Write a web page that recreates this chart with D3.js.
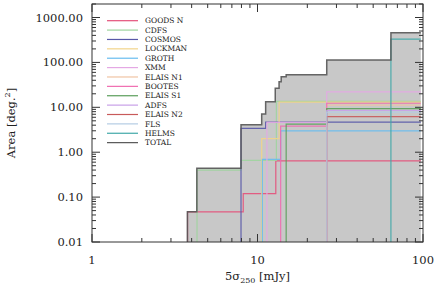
<!DOCTYPE html>
<html>
<head>
<meta charset="utf-8">
<script src="https://cdn.jsdelivr.net/npm/d3@7"></script>
<style>
  body { margin: 0; background: #fff; }
  svg { display: block; }
  text { font-family: "DejaVu Serif", serif; fill: #222; }
</style>
</head>
<body>
<svg width="436" height="286"></svg>
<script>
// field names + colours, in legend order
const fieldNames = ["GOODS N", "CDFS", "COSMOS", "LOCKMAN", "GROTH", "XMM", "ELAIS N1",
  "BOOTES", "ELAIS S1", "ADFS", "ELAIS N2", "FLS", "HELMS", "TOTAL"];
const fieldColors = ["#e4507a", "#9ed49e", "#5858a8", "#f2d488", "#68bcf0", "#e4a8e4", "#f0c4a4",
  "#f06cb0", "#5a9e5a", "#c8a0e8", "#c85a5a", "#b4cce4", "#40a8a8", "#555555"];

// [5sigma depth (mJy), cumulative area (deg^2)] steps
const goodsN  = [[3.78, 0.047], [8.2, 0.12], [12.9, 0.64]];
const cdfs    = [[4.31, 0.40], [7.95, 0.66], [13.0, 13.5]];
const cosmos  = [[7.95, 3.4], [11.2, 4.7]];
const lockman = [[10.6, 2.0], [13.5, 13.0]];
const groth   = [[10.7, 0.69], [13.8, 3.0]];
const xmm     = [[11.4, 4.6], [26.2, 22]];
const elaisN1 = [[26.2, 11.2]];
const bootes  = [[13.8, 3.8], [26.2, 12.3]];
const elaisS1 = [[14.9, 4.2], [26.2, 9.3]];
const adfs    = [[26.2, 8.5]];
const elaisN2 = [[26.2, 6.2]];
const fls     = [[26.2, 7.8]];
const helms   = [[64, 330]];
const total   = [[3.77, 0.047], [4.3, 0.44], [7.95, 4.1], [10.6, 7.1], [11.2, 13.3], [12.8, 26.5],
  [13.5, 37], [13.9, 48], [14.9, 53], [26.2, 113], [64, 455]];
const depthEnd = 97;

const allSteps = [goodsN, cdfs, cosmos, lockman, groth, xmm, elaisN1, bootes, elaisS1, adfs, elaisN2, fls, helms, total];

const xTicks = [1, 10, 100];
const yTicks = [0.01, 0.1, 1, 10, 100, 1000];

const svg = d3.select("svg");
const pLeft = 92, pRight = 423, pTop = 4, pBottom = 242;

const x = d3.scaleLog().domain([1, 100]).range([pLeft, pRight]);
const y = d3.scaleLog().domain([0.01, 2000]).range([pBottom, pTop]);

function toPoints(steps) {
  let pts = [[steps[0][0], 0.01]].concat(steps);
  pts.push([depthEnd, steps[steps.length - 1][1]]);
  return pts;
}

// grey area under the total
const area = d3.area()
  .x(d => x(d[0]))
  .y0(y(0.01))
  .y1(d => y(d[1]))
  .curve(d3.curveStepAfter);

svg.append("path")
  .attr("d", area(toPoints(total)))
  .attr("fill", "#c8c8c8");

const line = d3.line()
  .x(d => x(d[0]))
  .y(d => y(d[1]))
  .curve(d3.curveStepAfter);

allSteps.forEach((s, i) => {
  svg.append("path")
    .attr("d", line(toPoints(s)))
    .attr("fill", "none")
    .attr("stroke", fieldColors[i])
    .attr("stroke-opacity", 0.9)
    .attr("stroke-width", i === 13 ? 1.5 : 1.2);
});

// frame
svg.append("rect")
  .attr("x", pLeft).attr("y", pTop)
  .attr("width", pRight - pLeft).attr("height", pBottom - pTop)
  .attr("fill", "none").attr("stroke", "#333").attr("stroke-width", 1);

const ax = svg.append("g").attr("stroke", "#333").attr("stroke-width", 1);

// x ticks, inward on bottom and top
x.ticks().forEach(t => {
  const major = xTicks.includes(t);
  const len = major ? 8 : 4;
  ax.append("line").attr("x1", x(t)).attr("x2", x(t)).attr("y1", pBottom).attr("y2", pBottom - len);
  ax.append("line").attr("x1", x(t)).attr("x2", x(t)).attr("y1", pTop).attr("y2", pTop + len);
});

// y ticks, inward on left and right
y.ticks().filter(t => t <= 2000).forEach(t => {
  const major = yTicks.some(v => Math.abs(v - t) / v < 1e-6);
  const len = major ? 8 : 4;
  ax.append("line").attr("y1", y(t)).attr("y2", y(t)).attr("x1", pLeft).attr("x2", pLeft + len);
  ax.append("line").attr("y1", y(t)).attr("y2", y(t)).attr("x1", pRight).attr("x2", pRight - len);
});

svg.selectAll(".xl")
  .data(xTicks)
  .enter()
  .append("text")
  .attr("x", d => x(d))
  .attr("y", pBottom + 22)
  .attr("text-anchor", "middle")
  .attr("font-size", 11.5)
  .text(d => d);

svg.selectAll(".yl")
  .data(yTicks)
  .enter()
  .append("text")
  .attr("x", pLeft - 9)
  .attr("y", d => y(d))
  .attr("dy", "0.35em")
  .attr("text-anchor", "end")
  .attr("font-size", 11.5)
  .text(d => d3.format(".2f")(d));

// axis titles
const xt = svg.append("text")
  .attr("x", (pLeft + pRight) / 2)
  .attr("y", 280)
  .attr("text-anchor", "middle")
  .attr("font-size", 11.5);
xt.append("tspan").text("5σ");
xt.append("tspan").attr("font-size", 8).attr("dy", 3).text("250");
xt.append("tspan").attr("dy", -3).text(" [mJy]");

const yt = svg.append("text")
  .attr("transform", `translate(15, ${(pTop + pBottom) / 2}) rotate(-90)`)
  .attr("text-anchor", "middle")
  .attr("font-size", 11.5);
yt.append("tspan").text("Area [deg.");
yt.append("tspan").attr("font-size", 8).attr("dy", -5).text("2");
yt.append("tspan").attr("dy", 5).text("]");

// legend
const legend = svg.append("g");
fieldNames.forEach((name, i) => {
  const ly = 20.7 + i * 9.38;
  legend.append("line")
    .attr("x1", 107).attr("x2", 138)
    .attr("y1", ly).attr("y2", ly)
    .attr("stroke", fieldColors[i]).attr("stroke-width", 1.2);
  legend.append("text")
    .attr("x", 145).attr("y", ly)
    .attr("dy", "0.35em")
    .attr("font-size", 7.5)
    .attr("fill", "#333")
    .text(name);
});
</script>
</body>
</html>
